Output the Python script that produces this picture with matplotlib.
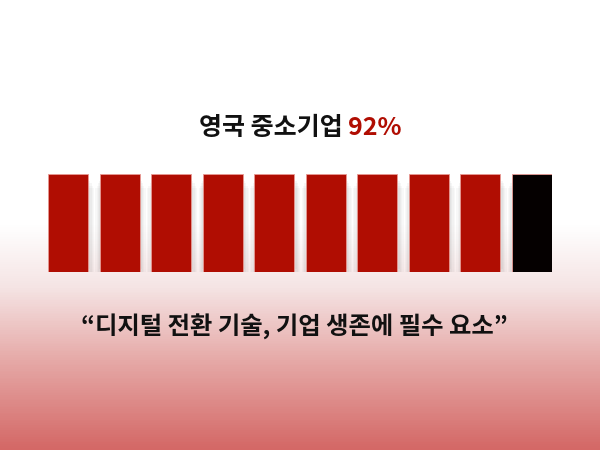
import numpy as np
import matplotlib.pyplot as plt
from matplotlib.colors import LinearSegmentedColormap

plt.rcParams['font.family'] = ['Noto Sans CJK KR', 'DejaVu Sans']

# ── Data ──────────────────────────────────────────────────────────────────────
title_main = '영국 중소기업 '
title_pct  = '92%'
quote      = '“디지털 전환 기술, 기업 생존에 필수 요소”'
n_units    = 10
n_filled   = 9
unit_vals  = [1] * n_units

RED   = '#b00d02'
BLACK = '#050000'
colors = [RED if i < n_filled else BLACK for i in range(n_units)]

# ── Figure + gradient background ──────────────────────────────────────────────
fig = plt.figure(figsize=(6, 4.5), dpi=100)
bg = fig.add_axes([0, 0, 1, 1])
bg.axis('off')
grad = LinearSegmentedColormap.from_list(
    'bg', [(0, '#ffffff'), (0.5, '#ffffff'), (0.64, '#f5e4e4'),
           (0.8, '#e6aaa8'), (1, '#d46866')])
g = np.linspace(0, 1, 450).reshape(-1, 1)
bg.imshow(g, aspect='auto', cmap=grad, extent=[0, 1, 0, 1], origin='upper')
bg.set_xlim(0, 1)
bg.set_ylim(0, 1)

# ── Unit bars ─────────────────────────────────────────────────────────────────
ax = fig.add_axes([48 / 600, (450 - 272) / 450, 504 / 600, 98 / 450])
ax.axis('off')
x = np.arange(n_units)
w = 0.776

# soft drop shadow, mostly below the bars
for k, a in enumerate([0.04, 0.04, 0.05, 0.05]):
    grow = 0.2 - k * 0.05
    ax.bar(x + 0.02, np.array(unit_vals) * 0.9, width=w + grow,
           bottom=0.05 - grow * 0.45, color='#606060', alpha=a, linewidth=0)
ax.bar(x, unit_vals, width=w, color=colors, edgecolor='#e89a94', linewidth=0.6)
ax.set_xlim(-w / 2, n_units - 1 + w / 2)
ax.set_ylim(0, 1)

# ── Texts ─────────────────────────────────────────────────────────────────────
ty = 1 - 128 / 450
t1 = fig.text(0.5, ty, title_main + title_pct, ha='center', va='center',
              fontsize=18, fontweight='heavy', alpha=0)
fig.canvas.draw()
x0 = t1.get_window_extent().x0 / fig.bbox.width
tm = fig.text(x0, ty, title_main, ha='left', va='center',
              fontsize=18, fontweight='heavy', color='#111111')
fig.canvas.draw()
fig.text(tm.get_window_extent().x1 / fig.bbox.width, ty, title_pct, ha='left',
         va='center', fontsize=18, fontweight='heavy', color=RED)

fig.text(0.49, 1 - 327 / 450, quote, ha='center', va='center',
         fontsize=17.5, fontweight='heavy', color='#111111')

fig.savefig('out.png', dpi=100)
